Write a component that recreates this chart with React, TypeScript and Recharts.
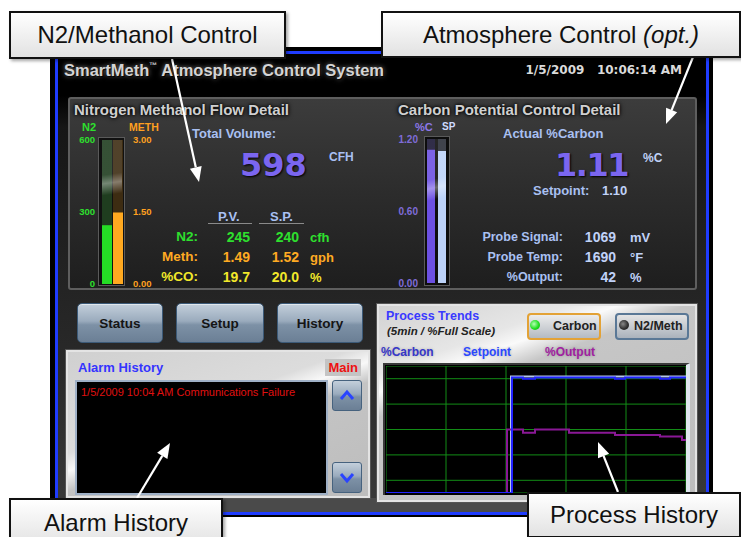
import React from 'react';
import { LineChart, Line, XAxis, YAxis, CartesianGrid, BarChart, Bar } from 'recharts';

// ---------- Process trend (5 min window, % of full scale) ----------
const trendTicksX = [60, 120, 180, 240];
const trendTicksY = [10, 20, 30, 40, 50, 60, 70, 80, 90];
const carbonTimes = [0, 126, 137, 149, 229, 239, 274, 284, 300];
const carbonValues = [0, 91, 90, 91, 90, 91, 90, 91, 91];
const setpointTimes = [0, 125, 300];
const setpointValues = [0, 91.7, 91.7];
const outputTimes = [0, 121, 137, 149, 183, 229, 274, 296, 300];
const outputValues = [0, 50, 47.5, 50, 47.5, 45.7, 44.4, 41.7, 41.7];
const trendLegend = ['%Carbon', 'Setpoint', '%Output'];

// ---------- Flow gauge ----------
const n2Ticks = [0, 300, 600];
const methTicks = [0, 1.5, 3];
const n2Flow = [245];
const methFlow = [1.49];

// ---------- Carbon gauge ----------
const carbonTicks = [0, 0.6, 1.2];
const carbonActual = [1.11];
const carbonSetpoint = [1.1];

// ---------- Text tables ----------
const flowRows = ['N2:', 'Meth:', '%CO:'];
const flowPV = ['245', '1.49', '19.7'];
const flowSP = ['240', '1.52', '20.0'];
const flowUnits = ['cfh', 'gph', '%'];
const flowColors = ['#2ee02e', '#ffaa22', '#f2e82a'];
const probeLabels = ['Probe Signal:', 'Probe Temp:', '%Output:'];
const probeValues = ['1069', '1690', '42'];
const probeUnits = ['mV', '°F', '%'];
const buttons = ['Status', 'Setup', 'History'];
const alarms = ['1/5/2009 10:04 AM Communications Failure'];

const SANS = '"Liberation Sans", Arial, sans-serif';
const DJ = '"DejaVu Sans", Verdana, sans-serif';
const LB = '#a9c0f2';

type TP = {
  x: number; y: number; children: React.ReactNode; color: string; size: number;
  weight?: number; align?: 'left' | 'right' | 'center'; family?: string; italic?: boolean;
  shadow?: string; ls?: number;
};
const T = ({ x, y, children, color, size, weight = 700, align = 'left', family = SANS, italic, shadow, ls }: TP) => {
  const style: React.CSSProperties = {
    position: 'absolute', top: y, color, fontSize: size, fontWeight: weight, fontFamily: family,
    lineHeight: 1, whiteSpace: 'pre', transform: 'translateY(-50%)', fontStyle: italic ? 'italic' : 'normal',
    textShadow: shadow, letterSpacing: ls,
  };
  if (align === 'left') style.left = x;
  else if (align === 'right') style.right = 741 - x;
  else { style.left = x; style.transform = 'translate(-50%,-50%)'; }
  return <div style={style}>{children}</div>;
};

const Box = ({ l, t, w, h, style }: { l: number; t: number; w: number; h: number; style?: React.CSSProperties }) => (
  <div style={{ position: 'absolute', left: l, top: t, width: w, height: h, boxSizing: 'border-box', ...style }} />
);

const Callout = ({ l, t, w, h, children }: { l: number; t: number; w: number; h: number; children: React.ReactNode }) => (
  <div style={{
    position: 'absolute', left: l, top: t, width: w, height: h, boxSizing: 'border-box',
    border: '2px solid #111', background: 'linear-gradient(#ffffff, #e2e2e2)',
    boxShadow: '2px 2px 3px rgba(0,0,0,0.35)', display: 'flex', alignItems: 'center',
    justifyContent: 'center', fontFamily: SANS, fontSize: 24, color: '#111', whiteSpace: 'pre',
  }}>{children}</div>
);

const Arrow = ({ x1, y1, x2, y2 }: { x1: number; y1: number; x2: number; y2: number }) => {
  const dx = x2 - x1, dy = y2 - y1;
  const len = Math.hypot(dx, dy);
  const ux = dx / len, uy = dy / len;
  const L = 15, W = 6;
  const bx = x2 - ux * L, by = y2 - uy * L;
  const pts = `${x2},${y2} ${bx - uy * W},${by + ux * W} ${bx + uy * W},${by - ux * W}`;
  return (
    <g>
      <line x1={x1} y1={y1} x2={bx} y2={by} stroke="#fff" strokeWidth={2.2} />
      <polygon points={pts} fill="#fff" />
    </g>
  );
};

const btnBg = 'linear-gradient(180deg, #c3cfdb 0%, #9aabbd 45%, #7d91a6 55%, #6b7f95 100%)';
const panelBg = 'linear-gradient(160deg, #d2d2d2 0%, #e6e6e6 22%, #fafafa 28%, #c6c6c6 36%, #bdbdbd 100%)';
const alarmBg = 'linear-gradient(160deg, #d0d0d0 0%, #dcdcdc 40%, #f8f8f8 47%, #c4c4c4 55%, #bdbdbd 100%)';
const headShadow = '0 0 3px #000, 0 0 5px #000';

export default function App() {
  const carbonData = carbonTimes.map((t, i) => ({ t, v: carbonValues[i] }));
  const setpointData = setpointTimes.map((t, i) => ({ t, v: setpointValues[i] }));
  const outputData = outputTimes.map((t, i) => ({ t, v: outputValues[i] }));
  const flowData = [{ name: 'flow', n2: n2Flow[0], meth: methFlow[0] }];
  const cData = [{ name: 'carbon', pc: carbonActual[0], sp: carbonSetpoint[0] }];

  return (
    <div style={{ position: 'absolute', left: 0, top: 0, width: 741, height: 537, background: '#fff', overflow: 'hidden', fontFamily: SANS }}>
      {/* screen */}
      <Box l={50} t={47} w={663} h={470} style={{ background: '#000' }} />
      <Box l={58} t={54} w={648} h={458} style={{ background: 'linear-gradient(180deg, #000 0%, #000 9%, #161616 16%, #222 45%, #2a2a2a 70%, #3a3a3a 100%)' }} />
      <Box l={58} t={498} w={648} h={14} style={{ background: '#4a4a4a' }} />
      <Box l={55} t={51} w={654} h={464} style={{ border: '3px solid #1f3cff' }} />

      {/* title */}
      <T x={64} y={70} color="#d4d4d4" size={16.5} shadow="1px 1px 1px #000, 0 0 5px #888">
        SmartMeth<span style={{ fontSize: 8, verticalAlign: 'top' }}>™</span> Atmosphere Control System
      </T>
      <T x={682} y={70} align="right" color="#dadada" size={12} family={DJ}>1/5/2009   10:06:14 AM</T>

      {/* top detail panel */}
      <Box l={68} t={97} w={629} h={193} style={{ border: '2px solid #5e5e5e', borderRadius: 3, background: 'linear-gradient(180deg, #3c3c3c 0%, #2c2c2c 50%, #1e1e1e 100%)' }} />
      <T x={74} y={109} color="#d0d0d0" size={15} shadow={headShadow}>Nitrogen Methanol Flow Detail</T>
      <T x={398} y={109} color="#d0d0d0" size={15} shadow={headShadow}>Carbon Potential Control Detail</T>

      {/* flow gauge */}
      <T x={82} y={127} color="#2ee02e" size={11}>N2</T>
      <T x={129} y={127} color="#ffa020" size={10.5}>METH</T>
      <Box l={98} t={137} w={27} h={149} style={{ background: '#111', border: '1px solid #5a5a5a' }} />
      <div style={{ position: 'absolute', left: 60, top: 130 }}>
        <BarChart width={102} height={160} data={flowData} margin={{ top: 10, right: 0, bottom: 6, left: 0 }} barCategoryGap={0} barGap={1}>
          <XAxis dataKey="name" hide />
          <YAxis yAxisId="n2" orientation="left" width={42} domain={[0, 600]} ticks={n2Ticks} interval={0}
            axisLine={false} tickLine={false} tickSize={0} tickMargin={7}
            tick={{ fill: '#2ee02e', fontSize: 9.5, fontWeight: 700, fontFamily: SANS }} />
          <YAxis yAxisId="meth" orientation="right" width={40} domain={[0, 3]} ticks={methTicks} interval={0}
            axisLine={false} tickLine={false} tickSize={0} tickMargin={11}
            tickFormatter={(v: number) => v.toFixed(2)}
            tick={{ fill: '#ffa020', fontSize: 9.5, fontWeight: 700, fontFamily: SANS }} />
          <Bar yAxisId="n2" dataKey="n2" fill="#25dd25" background={{ fill: '#1f3d1f' }} isAnimationActive={false} />
          <Bar yAxisId="meth" dataKey="meth" fill="#ffa920" background={{ fill: '#3d2c12' }} isAnimationActive={false} />
        </BarChart>
      </div>
      <Box l={102} t={140} w={20} h={144} style={{ background: 'linear-gradient(172deg, rgba(255,255,255,0.10) 0%, rgba(255,255,255,0.10) 24%, rgba(255,255,255,0.38) 30%, rgba(255,255,255,0) 38%)' }} />

      {/* flow text */}
      <T x={192} y={133} color={LB} size={13}>Total Volume:</T>
      <T x={240} y={165} color="#7b66f0" size={32} family={DJ} shadow="1px 1px 2px #000">598</T>
      <T x={329} y={157} color={LB} size={12}>CFH</T>
      <T x={218} y={216} color={LB} size={13}>P.V.</T>
      <T x={270} y={216} color={LB} size={13}>S.P.</T>
      <Box l={208} t={223} w={44} h={1} style={{ background: '#8a8a8a' }} />
      <Box l={259} t={223} w={45} h={1} style={{ background: '#8a8a8a' }} />
      {flowRows.map((r, i) => (
        <React.Fragment key={r}>
          <T x={198} y={237 + i * 20} align="right" color={flowColors[i]} size={13.5}>{r}</T>
          <T x={250} y={237 + i * 20} align="right" color={flowColors[i]} size={14}>{flowPV[i]}</T>
          <T x={299} y={237 + i * 20} align="right" color={flowColors[i]} size={14}>{flowSP[i]}</T>
          <T x={310} y={237 + i * 20} color={flowColors[i]} size={13}>{flowUnits[i]}</T>
        </React.Fragment>
      ))}

      {/* carbon gauge */}
      <T x={415} y={127} color="#8c78e8" size={11}>%C</T>
      <T x={442} y={127} color="#d0dcff" size={10}>SP</T>
      <Box l={424} t={136} w={26} h={150} style={{ background: '#0d0d0d', border: '1px solid #5a5a5a' }} />
      <div style={{ position: 'absolute', left: 370, top: 129 }}>
        <BarChart width={76} height={160} data={cData} margin={{ top: 10, right: 0, bottom: 6, left: 0 }} barCategoryGap={0} barGap={3}>
          <XAxis dataKey="name" hide />
          <YAxis orientation="left" width={57} domain={[0, 1.2]} ticks={carbonTicks} interval={0}
            axisLine={false} tickLine={false} tickSize={0} tickMargin={9}
            tickFormatter={(v: number) => v.toFixed(2)}
            tick={{ fill: '#7f6cd8', fontSize: 10, fontWeight: 700, fontFamily: SANS }} />
          <Bar dataKey="pc" fill="#6c50e2" background={{ fill: '#1a1634' }} isAnimationActive={false} />
          <Bar dataKey="sp" fill="#bcd2f8" background={{ fill: '#2a2e38' }} isAnimationActive={false} />
        </BarChart>
      </div>
      <Box l={427} t={139} w={19} h={144} style={{ background: 'linear-gradient(168deg, rgba(255,255,255,0.10) 0%, rgba(255,255,255,0.10) 28%, rgba(255,255,255,0.38) 34%, rgba(255,255,255,0) 42%)' }} />

      {/* carbon text */}
      <T x={503} y={133} color={LB} size={13}>Actual %Carbon</T>
      <T x={555} y={165} color="#7b66f0" size={32} family={DJ} ls={-1.5} shadow="1px 1px 2px #000">1.11</T>
      <T x={643} y={158} color="#c0d2f8" size={12}>%C</T>
      <T x={533} y={190} color={LB} size={13}>Setpoint:</T>
      <T x={602} y={190} color="#c0d2f8" size={13}>1.10</T>
      {probeLabels.map((p, i) => (
        <React.Fragment key={p}>
          <T x={563} y={237 + i * 20} align="right" color={LB} size={12.5}>{p}</T>
          <T x={616} y={237 + i * 20} align="right" color="#c0d2f8" size={14}>{probeValues[i]}</T>
          <T x={630} y={237 + i * 20} color="#c0d2f8" size={13}>{probeUnits[i]}</T>
        </React.Fragment>
      ))}

      {/* buttons */}
      {buttons.map((b, i) => {
        const lefts = [77, 176, 277];
        const widths = [86, 88, 86];
        return (
          <div key={b} style={{
            position: 'absolute', left: lefts[i], top: 303, width: widths[i], height: 40, boxSizing: 'border-box',
            border: '1px solid #3c5a78', borderRadius: 5, background: btnBg, display: 'flex', alignItems: 'center',
            justifyContent: 'center', fontSize: 13.5, fontWeight: 700, color: '#151515', fontFamily: SANS,
            boxShadow: 'inset 0 1px 0 rgba(255,255,255,0.5)',
          }}>{b}</div>
        );
      })}

      {/* alarm panel */}
      <Box l={66} t={350} w={304} h={148} style={{ background: alarmBg, border: '2px solid #e4e4e4', outline: '1px solid #555' }} />
      <T x={78} y={367} color="#3434ff" size={13}>Alarm History</T>
      <Box l={325} t={359} w={36} h={17} style={{ background: '#c4c4c4' }} />
      <T x={358} y={367} align="right" color="#ee1111" size={13}>Main</T>
      <Box l={75} t={380} w={253} h={115} style={{ background: '#000', border: '2px solid #9fb0c6' }} />
      {alarms.map((a, i) => (
        <T key={a} x={81} y={392 + i * 14} color="#e01010" size={11} weight={400}>{a}</T>
      ))}
      <Box l={332} t={380} w={30} h={31} style={{ background: btnBg, border: '1px solid #46627e', borderRadius: 3 }} />
      <Box l={332} t={462} w={30} h={31} style={{ background: btnBg, border: '1px solid #46627e', borderRadius: 3 }} />

      {/* process trends panel */}
      <Box l={377} t={304} w={320} h={198} style={{ background: panelBg, border: '2px solid #e4e4e4', outline: '1px solid #555' }} />
      <T x={386} y={316} color="#3a3aff" size={12.5}>Process Trends</T>
      <T x={387} y={332} color="#222" size={11.5} italic>(5min / %Full Scale)</T>
      <div style={{
        position: 'absolute', left: 527, top: 313, width: 74, height: 27, boxSizing: 'border-box',
        border: '2px solid #e3a236', borderRadius: 4, background: 'linear-gradient(180deg, #ececec, #b4bac2)',
      }} />
      <div style={{ position: 'absolute', left: 530, top: 320, width: 10, height: 10, borderRadius: 5, background: 'radial-gradient(circle at 40% 40%, #b8ffb8, #22e022 55%, #0a9a0a)' }} />
      <T x={553} y={326} color="#222" size={12.5}>Carbon</T>
      <div style={{
        position: 'absolute', left: 615, top: 313, width: 74, height: 27, boxSizing: 'border-box',
        border: '2px solid #5a7896', borderRadius: 4, background: 'linear-gradient(180deg, #e4e4e4, #aab2bc)',
      }} />
      <div style={{ position: 'absolute', left: 619, top: 320, width: 10, height: 10, borderRadius: 5, background: 'radial-gradient(circle at 40% 40%, #888, #333 55%, #111)' }} />
      <T x={634} y={326} color="#222" size={12.5}>N2/Meth</T>
      <T x={381} y={352} color="#3636c8" size={12} shadow="0 0 3px rgba(0,0,0,0.25)">{trendLegend[0]}</T>
      <T x={463} y={352} color="#2a48ff" size={12} shadow="0 0 3px rgba(0,0,0,0.25)">{trendLegend[1]}</T>
      <T x={545} y={352} color="#a020a0" size={12} shadow="0 0 3px rgba(0,0,0,0.25)">{trendLegend[2]}</T>
      <Box l={383} t={363} w={307} h={132} style={{ background: '#000', borderLeft: '2px solid #3a3a3a', borderTop: '2px solid #3a3a3a', borderRight: '4px solid #dfe6ee' }} />
      <div style={{ position: 'absolute', left: 386, top: 366 }}>
        <LineChart width={300} height={127} margin={{ top: 0, right: 0, bottom: 0, left: 0 }}>
          <CartesianGrid stroke="#128c16" strokeWidth={1} fill="#000" />
          <XAxis type="number" dataKey="t" domain={[0, 300]} ticks={trendTicksX} hide />
          <YAxis type="number" domain={[0, 100]} ticks={trendTicksY} hide />
          <Line data={setpointData} dataKey="v" type="stepAfter" stroke="#b4c6ea" strokeWidth={2} dot={false} isAnimationActive={false} />
          <Line data={outputData} dataKey="v" type="stepAfter" stroke="#8a1896" strokeWidth={2} dot={false} isAnimationActive={false} />
          <Line data={carbonData} dataKey="v" type="stepAfter" stroke="#2222ff" strokeWidth={2} dot={false} isAnimationActive={false} />
        </LineChart>
      </div>

      {/* arrows and scroll chevrons */}
      <svg width={741} height={537} style={{ position: 'absolute', left: 0, top: 0, pointerEvents: 'none' }}>
        <polyline points="341,399 347,392 353,399" fill="none" stroke="#2a44ff" strokeWidth={3} />
        <polyline points="341,474 347,481 353,474" fill="none" stroke="#2a44ff" strokeWidth={3} />
        <Arrow x1={172} y1={59} x2={199} y2={182} />
        <Arrow x1={693} y1={57} x2={666} y2={124} />
        <Arrow x1={137} y1={498} x2={170} y2={443} />
        <Arrow x1={618} y1={492} x2={598} y2={442} />
      </svg>

      {/* callouts */}
      <Callout l={9} t={11} w={277} h={48}>N2/Methanol Control</Callout>
      <Callout l={381} t={11} w={360} h={47}>Atmosphere Control <i>(opt.)</i></Callout>
      <Callout l={9} t={498} w={214} h={50}>Alarm History</Callout>
      <Callout l={527} t={492} w={214} h={46}>Process History</Callout>
    </div>
  );
}
